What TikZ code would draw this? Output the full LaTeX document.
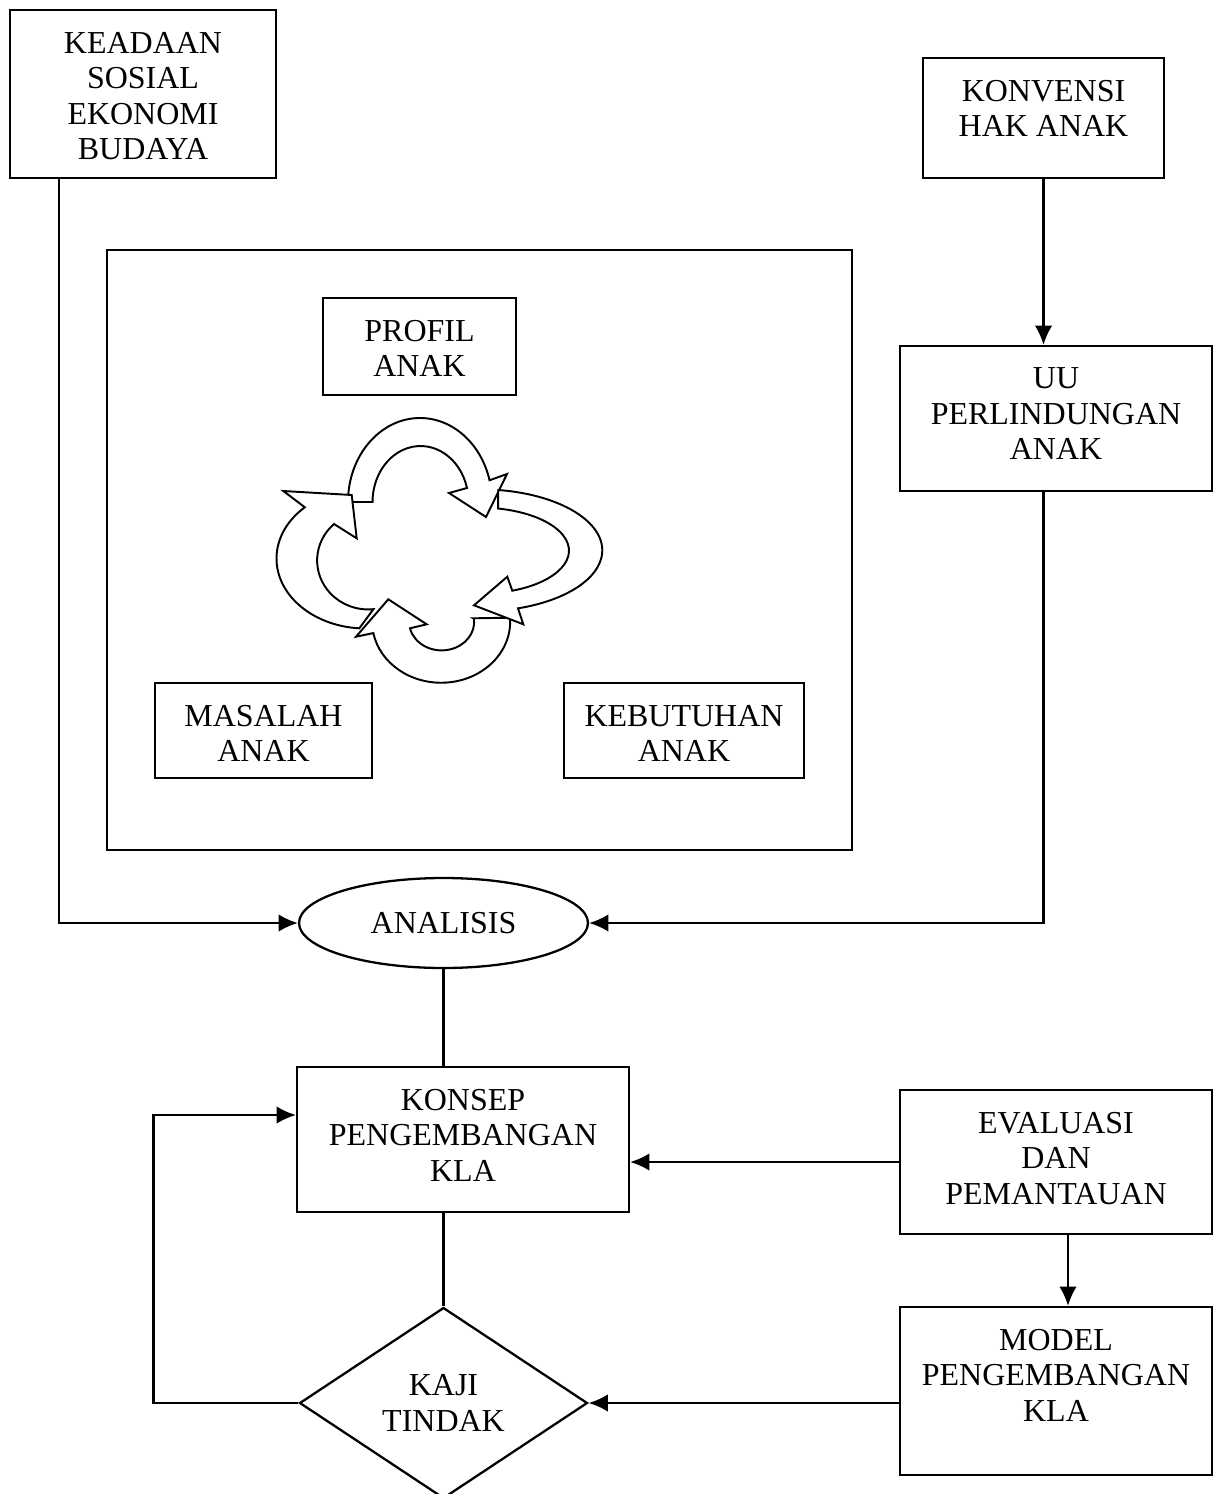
\documentclass[tikz,border=0pt]{standalone}
\usepackage{fontspec}
\setmainfont{Liberation Serif}
\usepackage{tikz}
\usetikzlibrary{
        arrows.meta,
        positioning,
        shapes,
        shapes.geometric
    }
\tikzset{>={Latex[length=11pt,width=10pt]},auto}
\tikzset{box/.style={draw,rectangle,inner sep=0pt}}
\tikzset{txt/.style={align=center,inner sep=0pt,font=\fontsize{18.2}{20.2}\selectfont}}

\begin{document}
\begin{tikzpicture}[x=0.02cm,y=0.02cm,line width=1.3pt]
                \tikzset{cyc/.style={draw,fill=white,line width=1.1pt,line join=miter}}
                \useasboundingbox (0,0) rectangle (1221,-1494);
                % kotak-kotak
                \node[box,minimum width=5.32cm,minimum height=3.36cm] (keadaan) at (143,-94) {};
                \node[txt,below=0.44cm of keadaan.north] (keadaantxt) {KEADAAN\\SOSIAL\\EKONOMI\\BUDAYA};
                \node[box,minimum width=4.82cm,minimum height=2.4cm] (konvensi) at (1043.5,-118) {};
                \node[txt,below=0.44cm of konvensi.north] (konvensitxt) {KONVENSI\\HAK ANAK};
                \node[box,minimum width=14.9cm,minimum height=12cm] (frame) at (479.5,-550) {};
                \node[box,minimum width=3.86cm,minimum height=1.94cm] (profil) at (419.5,-346.5) {};
                \node[txt,below=0.44cm of profil.north] (profiltxt) {PROFIL\\ANAK};
                \node[box,minimum width=4.34cm,minimum height=1.9cm] (masalah) at (263.5,-730.5) {};
                \node[txt,below=0.44cm of masalah.north] (masalahtxt) {MASALAH\\ANAK};
                \node[box,minimum width=4.8cm,minimum height=1.9cm] (kebutuhan) at (684,-730.5) {};
                \node[txt,below=0.44cm of kebutuhan.north] (kebutuhantxt) {KEBUTUHAN\\ANAK};
                \node[box,minimum width=6.24cm,minimum height=2.9cm] (uu) at (1056,-418.5) {};
                \node[txt,below=0.44cm of uu.north] (uutxt) {UU\\PERLINDUNGAN\\ANAK};
                \node[draw,ellipse,txt,minimum width=5.78cm,minimum height=1.8cm] (analisis) at (443.5,-923) {ANALISIS};
                \node[box,minimum width=6.64cm,minimum height=2.9cm] (konsep) at (463,-1139.5) {};
                \node[txt,below=0.44cm of konsep.north] (konseptxt) {KONSEP\\PENGEMBANGAN\\KLA};
                \node[box,minimum width=6.24cm,minimum height=2.88cm] (evaluasi) at (1056,-1162) {};
                \node[txt,below=0.44cm of evaluasi.north] (evaluasitxt) {EVALUASI\\DAN\\PEMANTAUAN};
                \node[box,minimum width=6.24cm,minimum height=3.36cm] (model) at (1056,-1391) {};
                \node[txt,below=0.44cm of model.north] (modeltxt) {MODEL\\PENGEMBANGAN\\KLA};
                \node[draw,diamond,txt,aspect=1.5,minimum width=5.76cm,minimum height=3.82cm] (kaji) at (443.5,-1403) {KAJI\\TINDAK};
                % siklus
                \draw[cyc] (348,-502) arc[start angle=180,end angle=15,x radius=72,y radius=84]
                    -- (507,-474) -- (486,-517) -- (449,-493) -- (467,-488)
                    arc[start angle=14.5,end angle=180,x radius=48,y radius=56] -- cycle;
                \draw[cyc] (359.3,-628.3) arc[start angle=266,end angle=133,x radius=89,y radius=70]
                    -- (283.3,-491) -- (351.7,-495) -- (356.7,-538.3) -- (334,-524)
                    arc[start angle=132,end angle=276,x radius=51,y radius=49] -- cycle;
                \draw[cyc] (473.3,-618.3) -- (510,-617.7) arc[start angle=3.8,end angle=-169.3,x radius=69,y radius=61]
                    -- (356,-636.7) -- (388.3,-599.3) -- (426.7,-624.3) -- (410,-628.3)
                    arc[start angle=-167,end angle=6.5,x radius=32.5,y radius=28.5] -- cycle;
                \draw[cyc] (498.3,-490) arc[start angle=81.5,end angle=-72,x radius=122,y radius=61]
                    -- (523.3,-624.3) -- (474,-605.3) -- (507.3,-576.7) -- (512.3,-590.7)
                    arc[start angle=-68.7,end angle=78.3,x radius=89,y radius=43] -- cycle;
                % panah
                \draw[->] ([xshift=1cm]keadaan.south west) |- (analisis.west);
                \draw[->] (konvensi.south) -- (konvensi.south |- uu.north);
                \draw[->] (konvensi.south |- uu.south) |- (analisis.east);
                \draw (analisis.south) -- (analisis.south |- konsep.north);
                \draw[->] (evaluasi.west) -- (evaluasi.west -| konsep.east);
                \draw[->] ([xshift=0.24cm]evaluasi.south) -- ([xshift=0.24cm]evaluasi.south |- model.north);
                \draw[->] (model.west |- kaji.east) -- (kaji.east);
                \draw (kaji.north |- konsep.south) -- (kaji.north);
                \draw[->] (kaji.west) -- ++(-145,0) |- ([yshift=0.49cm]konsep.west);
            \end{tikzpicture}
\end{document}
